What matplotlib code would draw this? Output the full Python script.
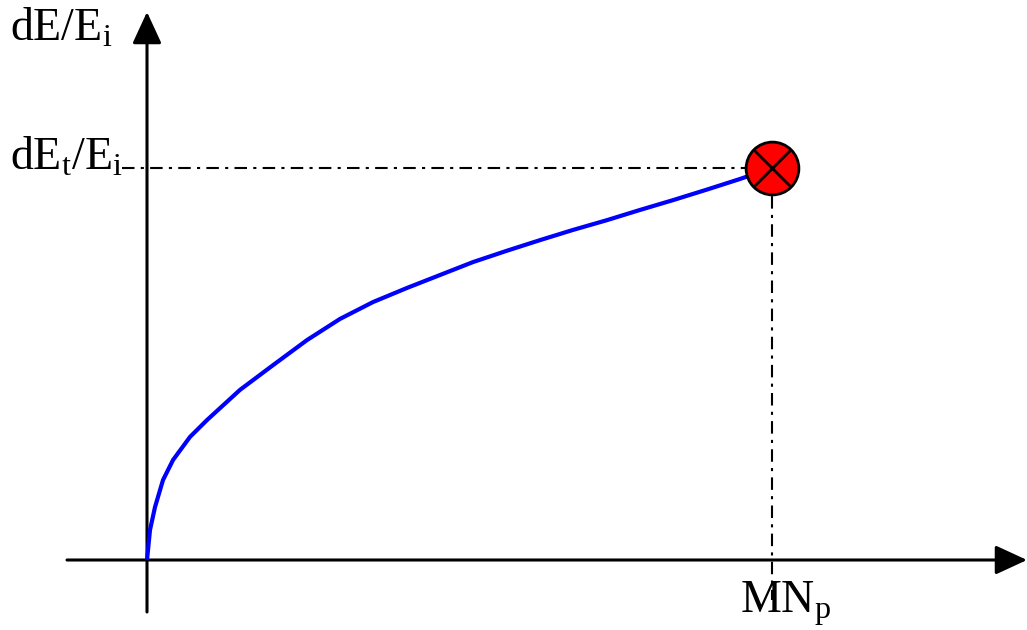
import matplotlib
matplotlib.use("Agg")
import matplotlib.pyplot as plt
import numpy as np

plt.rcParams['mathtext.fontset'] = 'custom'
plt.rcParams['mathtext.rm'] = 'Liberation Serif'
plt.rcParams['mathtext.it'] = 'Liberation Serif:italic'
plt.rcParams['font.family'] = ['Liberation Serif', 'DejaVu Serif']

# Curve data (normalised: MN_p -> 1, dE_t/E_i -> 1)
curve_x = [0.0, 0.0048, 0.0128, 0.0256, 0.0416, 0.0688, 0.096, 0.1488, 0.2016,
           0.256, 0.3088, 0.3616, 0.416, 0.4688, 0.5216, 0.576, 0.6288, 0.6816,
           0.736, 0.7888, 0.8416, 0.896, 0.9488, 1.0]
curve_y = [0.0, 0.0765, 0.135, 0.204, 0.255, 0.314, 0.357, 0.434, 0.497,
           0.561, 0.615, 0.658, 0.694, 0.727, 0.760, 0.789, 0.816, 0.842,
           0.867, 0.893, 0.918, 0.945, 0.972, 1.0]
end_x = 1.0
end_y = 1.0

y_label_top = r'$\mathrm{dE/E_i}$'
y_label_mark = r'$\mathrm{dE_t/E_i}$'
x_label_mark = r'$\mathrm{MN_p}$'

fig = plt.figure(figsize=(10.27, 6.3), dpi=100)
ax = fig.add_axes([0, 0, 1, 1])
# pixel mapping: origin at (147,560), x unit 625 px, y unit 392 px
ax.set_xlim(-147 / 625, (1027 - 147) / 625)
ax.set_ylim(-(630 - 560) / 392, 560 / 392)
ax.axis('off')

def px(x):
    return (x - 147) / 625

def py(y):
    return (560 - y) / 392

# axes arrows
ax.annotate('', xy=(px(1027), 0), xytext=(px(67), 0),
            arrowprops=dict(arrowstyle='-|>,head_length=1.3,head_width=0.6',
                            mutation_scale=15, lw=2.2, color='k',
                            shrinkA=0, shrinkB=0))
ax.annotate('', xy=(0, py(12)), xytext=(0, py(612)),
            arrowprops=dict(arrowstyle='-|>,head_length=1.3,head_width=0.6',
                            mutation_scale=15, lw=2.2, color='k',
                            shrinkA=0, shrinkB=0))

# guide lines
ax.plot([px(122), end_x], [end_y, end_y], color='k', lw=1.5, ls='-.', dashes=(6, 3, 1.5, 3))
ax.plot([end_x, end_x], [end_y, py(600)], color='k', lw=1.5, ls='-.', dashes=(6, 3, 1.5, 3))

# curve
ax.plot(curve_x, curve_y, color='#0000ff', lw=3, solid_capstyle='butt',
        solid_joinstyle='round', zorder=3)

# end marker
ax.plot([end_x], [end_y], marker='o', ms=38, mfc='#ff0000', mec='k', mew=2, zorder=4)
ax.plot([end_x], [end_y], marker='x', ms=27, mec='k', mew=2, zorder=5)

# labels
ax.text(px(10), py(41), y_label_top, fontsize=33, ha='left', va='baseline')
ax.text(px(10), py(170), y_label_mark, fontsize=33, ha='left', va='baseline')
ax.text(px(740), py(613), x_label_mark, fontsize=33, ha='left', va='baseline')

fig.savefig('out.png', dpi=100)
